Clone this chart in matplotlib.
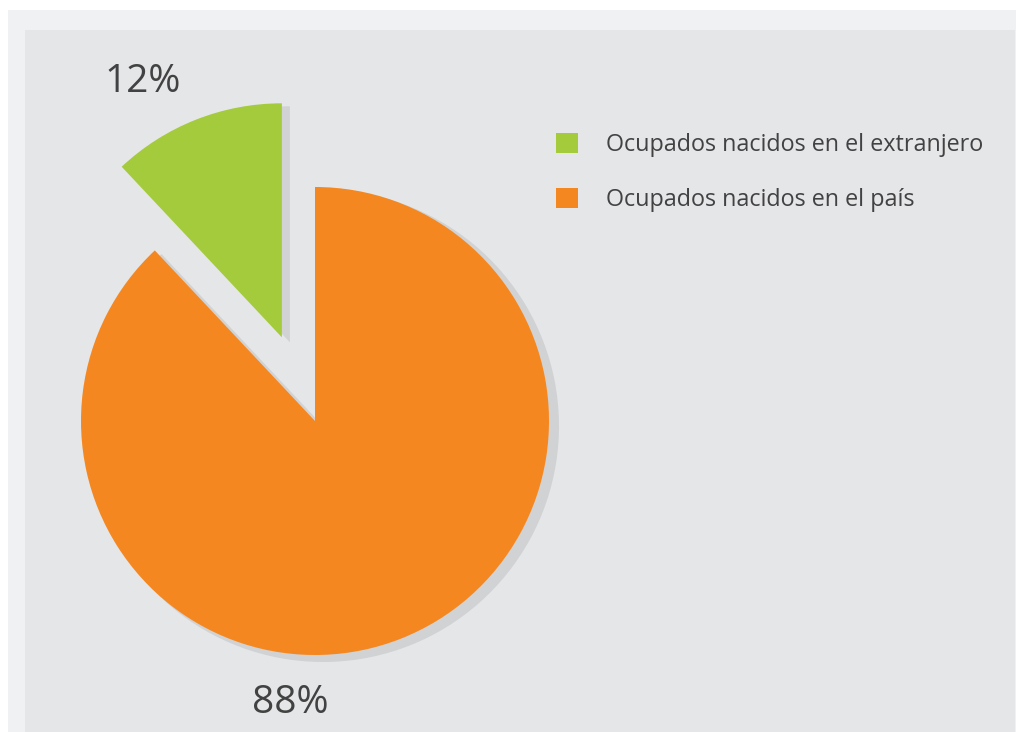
import matplotlib
matplotlib.use("Agg")
import matplotlib.pyplot as plt
from matplotlib.patches import Rectangle

categories = ["Ocupados nacidos en el extranjero", "Ocupados nacidos en el país"]
values = [12, 88]
colors = ["#a3cb3c", "#f58720"]

W, H = 1016, 732
plt.rcParams['font.family'] = ['Open Sans', 'DejaVu Sans']

fig = plt.figure(figsize=(W / 100, H / 100), dpi=100)
fig.patch.set_facecolor("white")
fig.patches.append(Rectangle((8 / W, 0), (W - 8) / W, (H - 10) / H, transform=fig.transFigure,
                             facecolor="#f0f1f3", edgecolor="none", zorder=-10))
fig.patches.append(Rectangle((25 / W, 0), (1015 - 25) / W, (H - 30) / H, transform=fig.transFigure,
                             facecolor="#e5e6e8", edgecolor="none", zorder=-9))

ax = fig.add_axes([0, 0, 1, 1])
ax.set_facecolor("none")

cx, cy, r = 315, H - 421, 234
explode = [90, 0]   # in pixel (data) units

# shadow
ax.pie(values, explode=explode, colors=["#d1d2d4", "#d1d2d4"], startangle=90,
       counterclock=True, radius=r + 2, center=(cx + 8, cy - 5),
       wedgeprops=dict(linewidth=0), frame=True)
wedges, _ = ax.pie(values, explode=explode, colors=colors, startangle=90,
                   counterclock=True, radius=r, center=(cx, cy),
                   wedgeprops=dict(linewidth=0), frame=True)

ax.set_xlim(0, W)
ax.set_ylim(0, H)
ax.set_aspect("auto")
ax.axis("off")

txt_color = "#424242"
ax.text(143, H - 82, f"{values[0]}%", fontsize=28, color=txt_color, ha="center", va="center")
ax.text(290, H - 703, f"{values[1]}%", fontsize=28, color=txt_color, ha="center", va="center")

leg = ax.legend(wedges, categories, loc="upper left",
                bbox_to_anchor=(556 / W, 1 - 133 / H), bbox_transform=fig.transFigure,
                frameon=False, fontsize=16.8, labelcolor=txt_color,
                handlelength=0.95, handleheight=0.95, handletextpad=1.2,
                labelspacing=1.32, borderpad=0, borderaxespad=0)

fig.savefig("out.png", dpi=100, facecolor=fig.get_facecolor())
